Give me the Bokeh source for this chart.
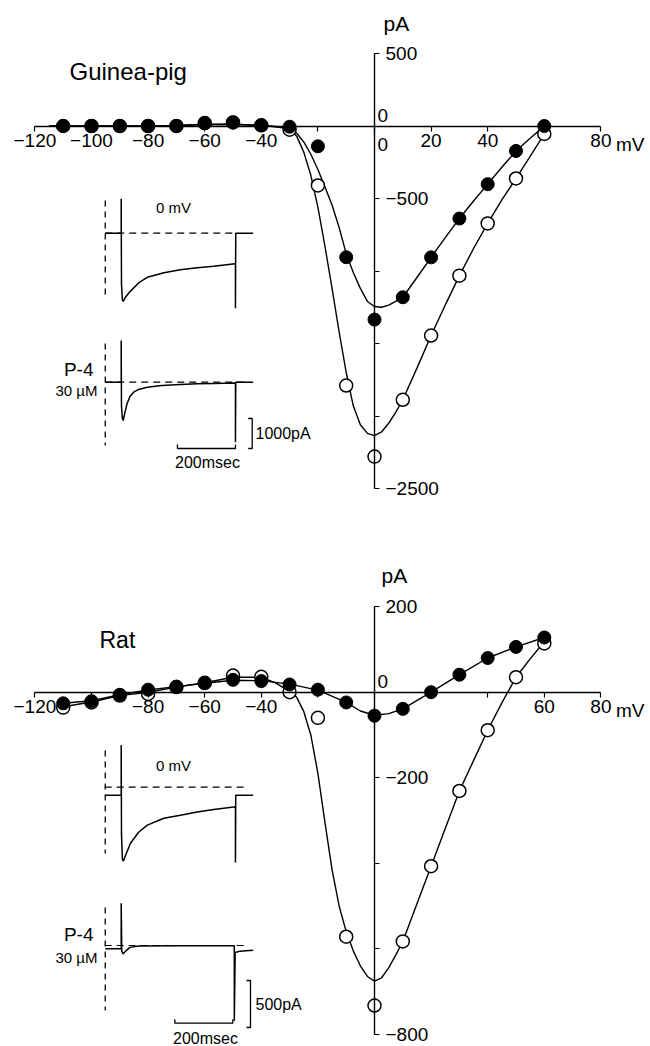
from bokeh.plotting import figure
from bokeh.layouts import column
from bokeh.models import Range1d, FixedTicker
from bokeh.core.properties import value
from bokeh.embed import file_html
from bokeh.resources import INLINE

# ---------------- data : Guinea-pig ----------------
gp_v = [-110, -100, -90, -80, -70, -60, -50, -40, -30, -20, -10, 0, 10, 20, 30, 40, 50, 60]
gp_p4 = [0, 0, 0, 0, 0, 20, 25, 5, -5, -140, -905, -1335, -1181, -906, -638, -401, -172, 0]
gp_ctrl = [0, 0, 0, 0, 0, 20, 25, 5, -25, -410, -1790, -2280, -1888, -1445, -1032, -672, -362, -55]

gp_fit_v = [-115, -100, -90, -80, -70, -60, -50, -40, -35, -32.5, -30, -27.5, -25, -22.5, -20,
            -17.5, -15, -12.5, -10, -7.5, -5, -2.5, 0, 2.5, 5, 7.5, 10, 15, 20, 25, 30, 35, 40,
            45, 50, 55, 60]
gp_fit_ctrl = [0, 0, 0, 0, 3, 10, 12, 3, -3, -8, -20, -70, -180, -340, -560, -830, -1120, -1420,
               -1700, -1930, -2060, -2120, -2135, -2110, -2050, -1975, -1888, -1670, -1445, -1235,
               -1032, -845, -672, -510, -362, -210, -55]
gp_fit_p4 = [0, 0, 0, 0, 3, 10, 12, 3, -5, -12, -22, -50, -110, -195, -300, -420, -545, -700,
             -880, -1010, -1120, -1210, -1245, -1250, -1235, -1210, -1181, -1045, -906, -770,
             -638, -517, -401, -285, -172, -85, 0]

gp_x_ticks = [-120, -100, -80, -60, -40, -20, 0, 20, 40, 60, 80]
gp_x_hidden = [-20, 0, 60]
gp_y_ticks = [-2500, -2000, -1500, -1000, -500, 0, 500]
gp_y_hidden = [-2000, -1500, -1000, 0]

# inset current traces (ms, pA relative to zero line)
gp_ctrl_trace_t = [-55, 0, 0, 1, 4, 7, 15, 32, 61, 90, 147, 204, 262, 319, 392, 394, 394, 395, 455]
gp_ctrl_trace_i = [0, 0, 1150, -1700, -2220, -2270, -2130, -1930, -1650, -1470, -1320, -1220,
                   -1150, -1100, -1020, -1020, -2500, 0, 0]
gp_p4_trace_t = [-55, 0, 0, 1, 4, 7, 12, 20, 30, 43, 60, 90, 140, 204, 262, 319, 392, 394, 394, 395, 455]
gp_p4_trace_i = [0, 0, 1390, -800, -1200, -1277, -1050, -720, -480, -333, -240, -167, -110, -77,
                 -55, -40, -30, -30, -2000, 0, 0]
gp_mark_ctrl = [1090, -2143]
gp_mark_p4 = [1290, -2110]
gp_zero_ctrl_t = [-55, 385]
gp_zero_p4_t = [-55, 445]
gp_scale_i = 1000

# ---------------- data : Rat ----------------
rat_v = [-110, -100, -90, -80, -70, -60, -50, -40, -30, -20, -10, 0, 10, 20, 30, 40, 50, 60]
rat_p4 = [-26, -21, -6, 6, 13, 21, 29, 26, 18, 6, -24, -55, -39, 0, 41, 80, 106, 128]
rat_ctrl = [-36, -24, -8, -4, 12, 22, 39, 36, 0, -60, -572, -733, -583, -407, -231, -89, 35, 114]

rat_fit_p4_v = [-110, -100, -90, -80, -70, -60, -50, -40, -30, -20, -10, -5, 0, 5, 10, 20, 30, 40, 50, 60]
rat_fit_p4 = [-26, -20, -6, 5, 13, 21, 28, 27, 19, 5, -24, -44, -54, -50, -39, 0, 41, 80, 106, 128]
rat_fit_ctrl_v = [-110, -100, -90, -80, -70, -60, -50, -40, -35, -30, -27.5, -25, -22.5, -20,
                  -17.5, -15, -12.5, -10, -7.5, -5, -2.5, 0, 2.5, 5, 7.5, 10, 15, 20, 25, 30, 35,
                  40, 45, 50, 55, 60]
rat_fit_ctrl = [-34, -23, -8, 0, 12, 22, 35, 35, 22, 2, -12, -45, -100, -190, -305, -415, -500,
                -560, -605, -640, -665, -676, -668, -645, -615, -583, -495, -407, -319, -231,
                -160, -89, -25, 35, 78, 118]

rat_x_ticks = [-120, -100, -80, -60, -40, -20, 0, 20, 40, 60, 80]
rat_x_hidden = [-100, -20, 0, 20, 40]
rat_y_ticks = [-800, -600, -400, -200, 0, 200]
rat_y_hidden = [-600, -400, 0]

rat_ctrl_trace_t = [-55, 0, 0, 1, 4, 7, 15, 32, 60, 90, 147, 204, 262, 319, 388, 394, 394, 395, 455]
rat_ctrl_trace_i = [-85, -85, 450, -500, -760, -787, -723, -596, -479, -404, -330, -298, -263,
                    -237, -210, -205, -800, -85, -85]
rat_p4_trace_t = [-55, 0, 0, 2, 7, 15, 30, 60, 200, 390, 390, 393, 410, 430, 455]
rat_p4_trace_i = [-35, -35, 450, -60, -90, -60, -20, -5, -3, -3, -800, -75, -60, -55, -50]
rat_mark_ctrl = [390, -705]
rat_mark_p4 = [404, -691]
rat_zero_ctrl_t = [-57, 430]
rat_zero_p4_t = [-57, 430]
rat_scale_i = 500

scale_t = 200  # ms

# ---------------- layout constants ----------------
W = 650
H1, H2 = 540, 506
MV0_PX, PX_MV = 374.0, 2.83
X_START = -MV0_PX / PX_MV
X_END = X_START + W / PX_MV
T0_PX, PX_MS = 120.7, 0.29
T_START = -T0_PX / PX_MS
T_END = T_START + W / PX_MS
FONT = "Liberation Sans"


def yrange(zero_px, px_per_unit, h):
    end = zero_px / px_per_unit
    return Range1d(end - h / px_per_unit, end)


def px2x(px):
    return X_START + px / PX_MV


def px2t(px):
    return T_START + px / PX_MS


def px2y(py, rng, ppu):
    return rng.end - py / ppu


def make_fig(h, main_y, c1, c2):
    p = figure(width=W, height=h, x_range=Range1d(X_START, X_END), y_range=main_y,
               output_backend="svg", toolbar_location=None, y_axis_location="right",
               min_border=0, outline_line_color=None,
               background_fill_color="white", border_fill_color="white")
    p.extra_x_ranges = {"t": Range1d(T_START, T_END)}
    p.extra_y_ranges = {"c1": c1, "c2": c2}
    p.grid.visible = False
    return p


def style_axes(p, xt, xh, yt, yh):
    xa, ya = p.xaxis[0], p.yaxis[0]
    for a in (xa, ya):
        a.fixed_location = 0
        a.minor_tick_line_color = None
        a.axis_line_width = 1.4
        a.major_tick_line_width = 1.2
        a.major_tick_in = 0
        a.major_tick_out = 5
        a.major_label_text_font = FONT
        a.major_label_text_font_size = "19px"
        a.major_label_text_color = "black"
    xa.bounds = (xt[0], xt[-1])
    ya.bounds = (yt[0], yt[-1])
    xa.ticker = FixedTicker(ticks=xt)
    ya.ticker = FixedTicker(ticks=yt)
    xa.major_label_overrides = {v: "" for v in xh}
    ya.major_label_overrides = {v: "" for v in yh}
    xa.major_label_standoff = 3
    ya.major_label_standoff = 6


def txt(p, x, y, s, size, align="left", baseline="middle", xr=None, yr=None, xo=0, yo=0):
    kw = {}
    if xr is not None:
        kw["x_range_name"] = xr
    if yr is not None:
        kw["y_range_name"] = yr
    p.text(x=[x], y=[y], text=[s], text_font=value(FONT), text_font_size=size,
           text_align=align, text_baseline=baseline, text_color="black",
           x_offset=xo, y_offset=yo, **kw)


def iv_draw(p, fit_c_v, fit_c, fit_p_v, fit_p, v, c, pp):
    p.line(fit_c_v, fit_c, line_color="black", line_width=1.4)
    p.line(fit_p_v, fit_p, line_color="black", line_width=1.4)
    p.scatter(v, c, size=13, marker="circle", fill_color="white", line_color="black", line_width=1.5)
    p.scatter(v, pp, size=13, marker="circle", fill_color="black", line_color="black", line_width=1)


def inset_draw(p, tr1, tr2, mark1, mark2, z1, z2, ppu, bar_i, bar_t_end, bar_low_t, bar_low_i, bar_x_t):
    p.line(tr1[0], tr1[1], x_range_name="t", y_range_name="c1", line_color="black", line_width=1.5)
    p.line(tr2[0], tr2[1], x_range_name="t", y_range_name="c2", line_color="black", line_width=1.5)
    t_mark = [tr1[0][0], tr1[0][0]]
    p.line(t_mark, mark1, x_range_name="t", y_range_name="c1", line_color="black",
           line_width=1.3, line_dash="6 5")
    p.line(t_mark, mark2, x_range_name="t", y_range_name="c2", line_color="black",
           line_width=1.3, line_dash="6 5")
    p.line(z1, [0, 0], x_range_name="t", y_range_name="c1", line_color="black",
           line_width=1.2, line_dash="7 5")
    p.line(z2, [0, 0], x_range_name="t", y_range_name="c2", line_color="black",
           line_width=1.2, line_dash="7 5")
    tick_i = 4 / ppu
    tick_t = 4 / PX_MS
    t0 = bar_t_end - scale_t
    p.line([t0, t0, bar_t_end, bar_t_end],
           [bar_low_t + tick_i, bar_low_t, bar_low_t, bar_low_t + tick_i],
           x_range_name="t", y_range_name="c2", line_color="black", line_width=1.3)
    p.line([bar_x_t - tick_t, bar_x_t, bar_x_t, bar_x_t - tick_t],
           [bar_low_i + bar_i, bar_low_i + bar_i, bar_low_i, bar_low_i],
           x_range_name="t", y_range_name="c2", line_color="black", line_width=1.3)


# ================= TOP PANEL =================
yr1 = yrange(125.5, 0.145, H1)
c1a = yrange(232.7, 0.03, H1)
c2a = yrange(381.7, 0.03, H1)
p1 = make_fig(H1, yr1, c1a, c2a)
style_axes(p1, gp_x_ticks, gp_x_hidden, gp_y_ticks, gp_y_hidden)

iv_draw(p1, gp_fit_v, gp_fit_ctrl, gp_fit_v, gp_fit_p4, gp_v, gp_ctrl, gp_p4)

inset_draw(p1, (gp_ctrl_trace_t, gp_ctrl_trace_i), (gp_p4_trace_t, gp_p4_trace_i),
           gp_mark_ctrl, gp_mark_p4, gp_zero_ctrl_t, gp_zero_p4_t, 0.03,
           gp_scale_i, 394, px2y(448, c2a, 0.03), px2y(448, c2a, 0.03), px2t(251.7))

txt(p1, px2x(69), px2y(71, yr1, 0.145), "Guinea-pig", "24px")
txt(p1, 0, 500, "pA", "21px", xo=9, yo=-30)
txt(p1, 0, 0, "0", "19px", xo=3, yo=-11)
txt(p1, 0, 0, "0", "19px", xo=3, yo=18)
txt(p1, 80, 0, "mV", "19px", xo=15, yo=18)
txt(p1, px2t(173), px2y(207, c1a, 0.03), "0 mV", "15px", align="center", xr="t", yr="c1")
txt(p1, px2t(93), px2y(368.5, c2a, 0.03), "P-4", "19px", align="right", xr="t", yr="c2")
txt(p1, px2t(97), px2y(389.5, c2a, 0.03), "30 \u00b5M", "15px", align="right", xr="t", yr="c2")
txt(p1, px2t(255), px2y(433, c2a, 0.03), "1000pA", "16px", xr="t", yr="c2")
txt(p1, px2t(207), px2y(462, c2a, 0.03), "200msec", "16px", align="center", xr="t", yr="c2")

# ================= BOTTOM PANEL =================
yr2 = yrange(151.7, 0.4275, H2)
c1b = yrange(246.7, 0.094, H2)
c2b = yrange(405.0, 0.094, H2)
p2 = make_fig(H2, yr2, c1b, c2b)
style_axes(p2, rat_x_ticks, rat_x_hidden, rat_y_ticks, rat_y_hidden)

iv_draw(p2, rat_fit_ctrl_v, rat_fit_ctrl, rat_fit_p4_v, rat_fit_p4, rat_v, rat_ctrl, rat_p4)

inset_draw(p2, (rat_ctrl_trace_t, rat_ctrl_trace_i), (rat_p4_trace_t, rat_p4_trace_i),
           rat_mark_ctrl, rat_mark_p4, rat_zero_ctrl_t, rat_zero_p4_t, 0.094,
           rat_scale_i, 385, px2y(1022.7 - H1, c2b, 0.094), px2y(1027 - H1, c2b, 0.094), px2t(250))

txt(p2, px2x(99), px2y(639 - H1, yr2, 0.4275), "Rat", "23px")
txt(p2, 0, 200, "pA", "21px", xo=7, yo=-31)
txt(p2, 0, 0, "0", "19px", xo=3, yo=-11)
txt(p2, 80, 0, "mV", "19px", xo=15, yo=18)
txt(p2, px2t(173), px2y(765 - H1, c1b, 0.094), "0 mV", "15px", align="center", xr="t", yr="c1")
txt(p2, px2t(93), px2y(934 - H1, c2b, 0.094), "P-4", "19px", align="right", xr="t", yr="c2")
txt(p2, px2t(97), px2y(957 - H1, c2b, 0.094), "30 \u00b5M", "15px", align="right", xr="t", yr="c2")
txt(p2, px2t(255), px2y(1003.5 - H1, c2b, 0.094), "500pA", "16px", xr="t", yr="c2")
txt(p2, px2t(205), px2y(1038 - H1, c2b, 0.094), "200msec", "16px", align="center", xr="t", yr="c2")

layout = column(p1, p2, spacing=0)
open("out.html", "w").write(file_html(layout, INLINE))
